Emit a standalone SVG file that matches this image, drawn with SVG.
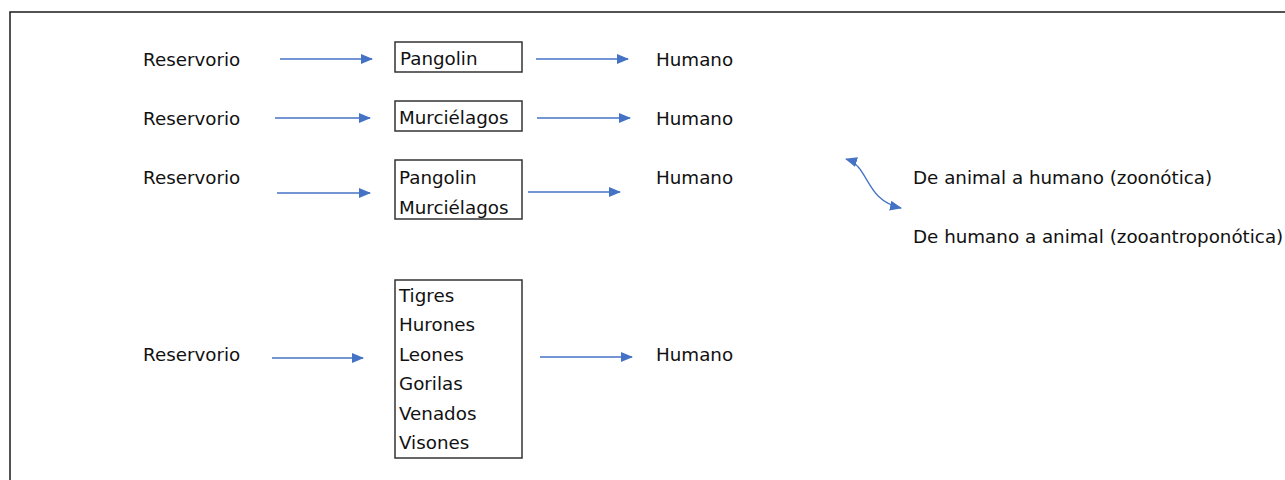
<svg xmlns="http://www.w3.org/2000/svg" width="1285" height="480" viewBox="0 0 1285 480">
<style>
text{font-family:"DejaVu Sans","Liberation Sans",sans-serif;font-size:18.3px;fill:#111}
.box{fill:#fff;stroke:#333;stroke-width:1.5}
.conn{fill:none;stroke:#4472C4;stroke-width:1.3}
</style>
<defs>
<marker id="ah" viewBox="0 0 12 10" refX="11" refY="5" markerWidth="12" markerHeight="10" markerUnits="userSpaceOnUse" orient="auto-start-reverse">
<path d="M0,0 L12,5 L0,10 Z" fill="#4472C4"/>
</marker>
</defs>
<rect x="0" y="0" width="1285" height="480" fill="#fff"/>
<path d="M10,480 L10,12 L1285,12" fill="none" stroke="#1a1a1a" stroke-width="1.5"/>
<g id="r1-res"><text x="143" y="66">Reservorio</text></g>
<g id="r1-box"><rect class="box" x="395" y="42" width="127" height="30"/><text x="400" y="65">Pangolin</text></g>
<g id="r1-hum"><text x="656" y="66">Humano</text></g>
<g id="r2-res"><text x="143" y="125">Reservorio</text></g>
<g id="r2-box"><rect class="box" x="395" y="101" width="127" height="30"/><text x="399" y="124">Murciélagos</text></g>
<g id="r2-hum"><text x="656" y="125">Humano</text></g>
<g id="r3-res"><text x="143" y="184">Reservorio</text></g>
<g id="r3-box"><rect class="box" x="395" y="160" width="127" height="59"/><text x="399" y="184">Pangolin</text><text x="399" y="214">Murciélagos</text></g>
<g id="r3-hum"><text x="656" y="184">Humano</text></g>
<g id="legend1"><text x="913" y="184">De animal a humano (zoonótica)</text></g>
<g id="legend2"><text x="913" y="243">De humano a animal (zooantroponótica)</text></g>
<g id="r4-res"><text x="143" y="361">Reservorio</text></g>
<g id="r4-box"><rect class="box" x="395" y="280" width="127" height="178"/>
<text x="399" y="302">Tigres</text><text x="399" y="331">Hurones</text><text x="399" y="361">Leones</text><text x="399" y="390">Gorilas</text><text x="399" y="420">Venados</text><text x="399" y="449">Visones</text></g>
<g id="r4-hum"><text x="656" y="361">Humano</text></g>
<g id="connectors">
<line class="conn" x1="280" y1="59" x2="372" y2="59" marker-end="url(#ah)"/>
<line class="conn" x1="536" y1="59" x2="628" y2="59" marker-end="url(#ah)"/>
<line class="conn" x1="275" y1="118" x2="370" y2="118" marker-end="url(#ah)"/>
<line class="conn" x1="537" y1="118" x2="630" y2="118" marker-end="url(#ah)"/>
<line class="conn" x1="277" y1="193" x2="370" y2="193" marker-end="url(#ah)"/>
<line class="conn" x1="528" y1="192" x2="620" y2="192" marker-end="url(#ah)"/>
<line class="conn" x1="272" y1="358" x2="363" y2="358" marker-end="url(#ah)"/>
<line class="conn" x1="540" y1="357" x2="632" y2="357" marker-end="url(#ah)"/>
<path class="conn" d="M846,159 C870,166 864,200 901,208" marker-start="url(#ah)" marker-end="url(#ah)"/>
</g>
</svg>
